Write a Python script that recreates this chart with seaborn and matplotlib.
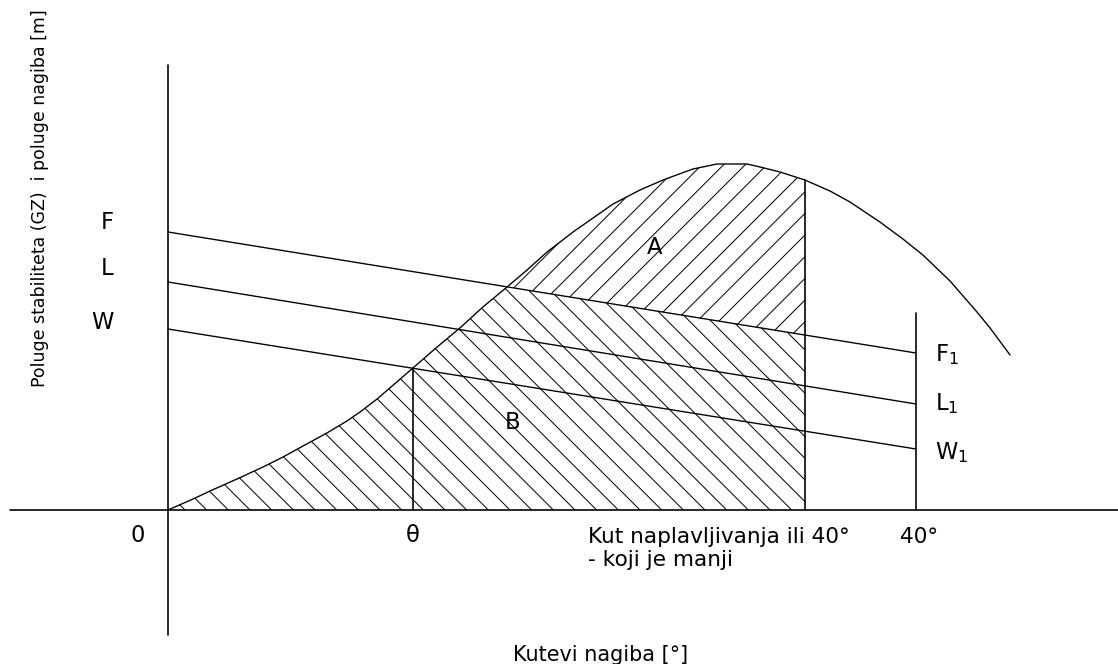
"""
Dijagram stabiliteta: GZ krivulja, poluge nagiba F, L, W i povrsine A i B.
"""

import numpy as np
import pandas as pd
import matplotlib.pyplot as plt
import seaborn as sns

sns.set_theme(style="white")
plt.rcParams["font.family"] = ["DejaVu Sans"]
plt.rcParams["text.color"] = "black"
plt.rcParams["mathtext.fontset"] = "dejavusans"
plt.rcParams["mathtext.default"] = "regular"
plt.rcParams["hatch.linewidth"] = 0.55

# ------------------------------------------------------------------
# Data (kut nagiba [deg], poluga [m])
# ------------------------------------------------------------------
gz_angle = [0.0, 1.34, 2.25, 3.69, 5.08, 6.15, 7.22, 8.50, 9.57, 10.27, 11.18,
            13.10, 14.39, 15.61, 16.84, 18.13, 19.20, 20.27, 21.66, 23.80,
            25.24, 26.47, 28.07, 29.36, 30.96, 31.66, 32.73, 34.06, 35.40,
            36.47, 38.07, 39.30, 40.37, 41.82, 43.26, 43.96, 45.03]
gz_value = [0.0, 0.11, 0.19, 0.31, 0.43, 0.53, 0.64, 0.77, 0.89, 0.98, 1.11,
            1.42, 1.63, 1.82, 2.03, 2.23, 2.40, 2.58, 2.78, 3.06,
            3.20, 3.30, 3.41, 3.46, 3.46, 3.43, 3.38, 3.30, 3.19,
            3.08, 2.88, 2.71, 2.55, 2.29, 1.98, 1.82, 1.55]

lever_names = ["F", "L", "W"]
lever_angle = [0.0, 40.0]
lever_start = [2.78, 2.28, 1.81]
lever_end = [1.57, 1.06, 0.61]

theta = 13.10          # presjek W i GZ
flood_angle = 34.06    # kut naplavljivanja
limit_angle = 40.0
limit_top = 1.97
cross_f = 18.13        # presjek F i GZ

# ------------------------------------------------------------------
# Figure
# ------------------------------------------------------------------
DPI = 130
fig = plt.figure(figsize=(1118 / DPI, 664 / DPI), dpi=DPI)
ax = fig.add_axes([0, 0, 1, 1])
ax.set_xlim(-168 / 18.7, (1118 - 168) / 18.7)
ax.set_ylim((510 - 664) / 100, 510 / 100)
ax.axis("off")

gz = pd.DataFrame({"kut": gz_angle, "gz": gz_value})
x = gz["kut"].to_numpy()
y = gz["gz"].to_numpy()
f_line = np.interp(x, lever_angle, [lever_start[0], lever_end[0]])

# povrsina B (ispod min(GZ, F)) i povrsina A (izmedu F i GZ)
mb = x <= flood_angle
ax.fill_between(x[mb], 0, np.minimum(y, f_line)[mb], facecolor="none",
                edgecolor="black", linewidth=0, hatch="\\\\")
ma = (x >= cross_f) & (x <= flood_angle)
ax.fill_between(x[ma], f_line[ma], y[ma], facecolor="none",
                edgecolor="black", linewidth=0, hatch="//")

# GZ krivulja
sns.lineplot(data=gz, x="kut", y="gz", ax=ax, color="black", lw=0.75, sort=False)

# poluge nagiba
for name, y0, y1 in zip(lever_names, lever_start, lever_end):
    sns.lineplot(x=lever_angle, y=[y0, y1], ax=ax, color="black", lw=0.75)

# osi
ax.plot([-8.45, 50.8], [0, 0], color="black", lw=0.9)
ax.plot([0, 0], [-1.25, 4.45], color="black", lw=0.9)

# okomite linije
ax.plot([theta, theta], [0, np.interp(theta, x, y)], color="black", lw=0.9)
ax.plot([flood_angle, flood_angle], [0, np.interp(flood_angle, x, y)], color="black", lw=0.9)
ax.plot([limit_angle, limit_angle], [0, limit_top], color="black", lw=0.9)

# ------------------------------------------------------------------
# Tekst
# ------------------------------------------------------------------
fs = 12.5
for name, yy in zip(lever_names, [2.87, 2.41, 1.87]):
    ax.text(-2.9, yy, name, fontsize=fs, ha="right", va="center")
for name, yy in zip(lever_names, [1.55, 1.06, 0.57]):
    ax.text(41.0, yy, name + "$_1$", fontsize=fs, ha="left", va="center")

ax.text(26.0, 2.62, "A", fontsize=fs, ha="center", va="center")
ax.text(18.4, 0.87, "B", fontsize=fs, ha="center", va="center")

ax.text(-1.6, -0.26, "0", fontsize=fs, ha="center", va="center")
ax.text(theta, -0.26, "θ", fontsize=fs, ha="center", va="center")
ax.text(22.46, -0.17, "Kut naplavljivanja ili 40°\n- koji je manji", fontsize=12,
        ha="left", va="top", linespacing=1.2)
ax.text(39.14, -0.17, "40°", fontsize=12, ha="left", va="top")

ax.text(23.15, -1.45, "Kutevi nagiba [°]", fontsize=11.5, ha="center", va="center")
ax.text(-6.84, 3.12, "Poluge stabiliteta (GZ)  i poluge nagiba [m]", fontsize=9.6,
        rotation=90, ha="center", va="center")

fig.savefig("out.png", dpi=DPI)
plt.close(fig)
